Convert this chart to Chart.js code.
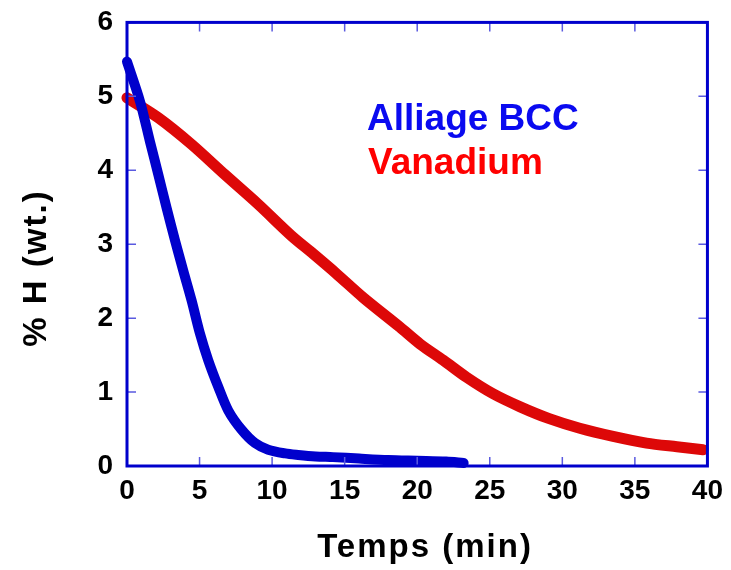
<!DOCTYPE html>
<html>
<head>
<meta charset="utf-8">
<script src="https://cdn.jsdelivr.net/npm/chart.js@4"></script>
<style>
html,body{margin:0;padding:0;background:#fff;}
#wrap{width:731px;height:570px;}
</style>
</head>
<body>
<div id="wrap"><canvas id="c" width="731" height="570"></canvas></div>
<script>
// ---- data ----
const blueName = "Alliage BCC";
const redName = "Vanadium";
const blueT = [0, 0.9, 1.58, 2.16, 2.73, 3.31, 3.88, 4.45, 5.03, 5.6, 6.29, 6.98, 7.9, 8.82, 9.73, 10.9, 11.8, 13, 14.2, 16, 18, 20, 22, 23.2];
const blueV = [5.47, 4.93, 4.39, 3.94, 3.49, 3.05, 2.64, 2.24, 1.79, 1.43, 1.07, 0.75, 0.49, 0.31, 0.22, 0.17, 0.15, 0.13, 0.12, 0.10, 0.08, 0.07, 0.06, 0.04];
const redT = [0, 2.16, 4.45, 6.75, 9.04, 11.3, 12.83, 14.44, 16.27, 18.8, 20.2, 21.8, 23.4, 25.2, 27.1, 29.1, 31.2, 33.5, 35.8, 37.9, 39.7];
const redV = [4.98, 4.71, 4.35, 3.94, 3.54, 3.12, 2.87, 2.60, 2.28, 1.88, 1.65, 1.43, 1.20, 0.98, 0.80, 0.64, 0.51, 0.40, 0.31, 0.26, 0.22];
const xTitle = "Temps (min)";
const yTitle = "% H (wt.)";
const xMin = 0, xMax = 40, xStep = 5;
const yMin = 0, yMax = 6, yStep = 1;

const toPts = (t, v) => t.map((x, i) => ({x: x, y: v[i]}));
const FONT = "'Liberation Sans', Arial, Helvetica, sans-serif";

const framePlugin = {
  id: 'frame',
  afterDatasetsDraw(chart) {
    const ctx = chart.ctx, a = chart.chartArea;
    const xs = chart.scales.x, ys = chart.scales.y;
    ctx.save();
    // inward ticks on all four sides
    ctx.strokeStyle = '#5a5ae0';
    ctx.lineWidth = 1.5;
    const L = 9;
    ctx.beginPath();
    xs.ticks.forEach(t => {
      const px = xs.getPixelForValue(t.value);
      ctx.moveTo(px, a.bottom); ctx.lineTo(px, a.bottom - L);
      ctx.moveTo(px, a.top); ctx.lineTo(px, a.top + L);
    });
    ys.ticks.forEach(t => {
      const py = ys.getPixelForValue(t.value);
      ctx.moveTo(a.left, py); ctx.lineTo(a.left + L, py);
      ctx.moveTo(a.right, py); ctx.lineTo(a.right - L, py);
    });
    ctx.stroke();
    // frame
    ctx.strokeStyle = '#0000cc';
    ctx.lineWidth = 3;
    ctx.strokeRect(a.left, a.top, a.right - a.left, a.bottom - a.top);
    ctx.restore();
  },
  afterDraw(chart) {
    const ctx = chart.ctx;
    ctx.save();
    try { ctx.letterSpacing = '2px'; } catch (e) {}
    ctx.fillStyle = '#000';
    ctx.font = "bold 33px " + FONT;
    ctx.textAlign = 'center';
    ctx.textBaseline = 'alphabetic';
    ctx.fillText(xTitle, 425, 557);
    ctx.translate(46, 268);
    ctx.rotate(-Math.PI / 2);
    ctx.fillText(yTitle, 0, 0);
    ctx.restore();
    // series labels
    ctx.save();
    ctx.font = "bold 37px " + FONT;
    ctx.textAlign = 'left';
    ctx.textBaseline = 'alphabetic';
    ctx.fillStyle = '#0a0af0';
    ctx.fillText(blueName, 367, 130);
    ctx.fillStyle = '#ff0000';
    ctx.fillText(redName, 368, 174);
    ctx.restore();
  }
};

new Chart(document.getElementById('c'), {
  type: 'scatter',
  data: {
    datasets: [
      {
        label: blueName,
        data: toPts(blueT, blueV),
        showLine: true,
        borderColor: '#0000cc',
        backgroundColor: '#0000cc',
        borderWidth: 10,
        pointRadius: 0,
        borderCapStyle: 'round',
        borderJoinStyle: 'round',
        tension: 0.3,
        clip: 7
      },
      {
        label: redName,
        data: toPts(redT, redV),
        showLine: true,
        borderColor: '#dd0808',
        backgroundColor: '#dd0808',
        borderWidth: 11,
        pointRadius: 0,
        borderCapStyle: 'round',
        borderJoinStyle: 'round',
        tension: 0.3,
        clip: 7
      }
    ]
  },
  options: {
    responsive: false,
    animation: false,
    events: [],
    layout: { padding: { top: 21, right: 23, left: 0, bottom: 0 } },
    plugins: { legend: { display: false }, tooltip: { enabled: false } },
    scales: {
      x: {
        type: 'linear', min: xMin, max: xMax,
        grid: { display: false, drawTicks: false },
        border: { display: false },
        ticks: { stepSize: xStep, color: '#000', padding: 8, maxRotation: 0,
                 font: { family: FONT, size: 28, weight: 'bold' } },
        afterFit(s) { s.height = 104; }
      },
      y: {
        type: 'linear', min: yMin, max: yMax,
        grid: { display: false, drawTicks: false },
        border: { display: false },
        ticks: { stepSize: yStep, color: '#000', padding: 14,
                 font: { family: FONT, size: 28, weight: 'bold', lineHeight: 0.6 } },
        afterFit(s) { s.width = 127; }
      }
    }
  },
  plugins: [framePlugin]
});
</script>
</body>
</html>
